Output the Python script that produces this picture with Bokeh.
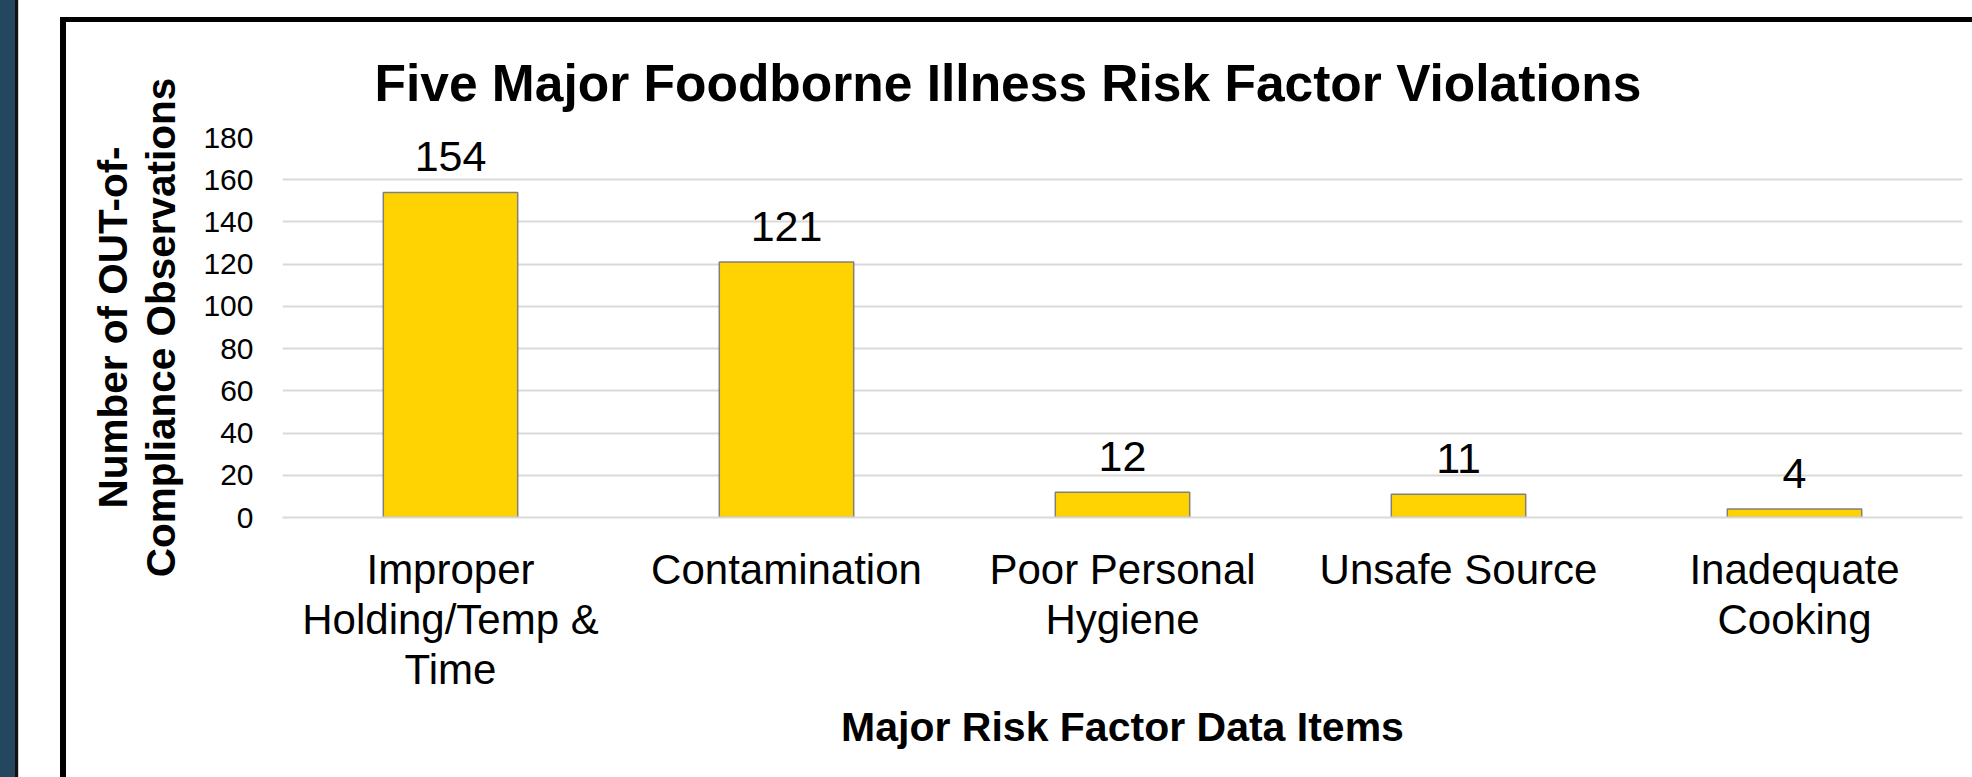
from bokeh.plotting import figure
from bokeh.models import ColumnDataSource, FixedTicker, Title, Div
from bokeh.layouts import row, column
from bokeh.core.properties import value
from bokeh.embed import file_html
from bokeh.resources import INLINE

# ---- data ----
categories = [
    "Improper\nHolding/Temp &\nTime",
    "Contamination",
    "Poor Personal\nHygiene",
    "Unsafe Source",
    "Inadequate\nCooking",
]
counts = [154, 121, 12, 11, 4]
y_ticks = [0, 20, 40, 60, 80, 100, 120, 140, 160, 180]

chart_title = "Five Major Foodborne Illness Risk Factor Violations"
x_title = "Major Risk Factor Data Items"
y_title = "Number of OUT-of-\nCompliance Observations"

FONT = "Liberation Sans"

src = ColumnDataSource(dict(cat=categories, val=counts, lab=[str(v) for v in counts]))

p = figure(
    x_range=categories, y_range=(0, 180),
    width=1906, height=755,
    output_backend="svg", toolbar_location=None,
    min_border_left=216, min_border_right=10, min_border_top=115, min_border_bottom=260,
)
p.outline_line_color = None
p.background_fill_color = "white"
p.border_fill_color = "white"

p.vbar(x="cat", top="val", width=0.40, source=src,
       fill_color="#FFD302", line_color="#808080", line_width=1.5)
p.text(x="cat", y="val", text="lab", source=src, text_align="center",
       text_baseline="alphabetic", y_offset=-36, text_font=value(FONT),
       text_font_size="43px", text_color="black")

# grid
p.xgrid.grid_line_color = None
p.ygrid.grid_line_color = "#d9d9d9"
p.ygrid.grid_line_width = 2
p.ygrid.ticker = FixedTicker(ticks=y_ticks)

# y axis
p.yaxis.ticker = FixedTicker(ticks=y_ticks)
p.yaxis.axis_line_color = None
p.yaxis.major_tick_line_color = None
p.yaxis.minor_tick_line_color = None
p.yaxis.major_tick_out = 0
p.yaxis.major_tick_in = 0
p.yaxis.major_label_standoff = 29
p.yaxis.major_label_text_font = FONT
p.yaxis.major_label_text_font_size = "30px"
p.yaxis.major_label_text_color = "black"
p.yaxis.axis_label = y_title
p.yaxis.axis_label_text_font = FONT
p.yaxis.axis_label_text_font_style = "bold"
p.yaxis.axis_label_text_font_size = "40.5px"
p.yaxis.axis_label_text_line_height = 1.05
p.yaxis.axis_label_text_color = "black"
p.yaxis.axis_label_standoff = 16

# x axis
p.xaxis.axis_line_color = "#d9d9d9"
p.xaxis.axis_line_width = 2
p.xaxis.major_tick_line_color = None
p.xaxis.minor_tick_line_color = None
p.xaxis.major_tick_out = 0
p.xaxis.major_tick_in = 0
p.xaxis.major_label_standoff = 28
p.xaxis.major_label_text_font = FONT
p.xaxis.major_label_text_font_size = "42px"
p.xaxis.major_label_text_line_height = 1.07
p.xaxis.major_label_text_color = "black"
p.xaxis.axis_label = x_title
p.xaxis.axis_label_text_font = FONT
p.xaxis.axis_label_text_font_style = "bold"
p.xaxis.axis_label_text_font_size = "41px"
p.xaxis.axis_label_text_color = "black"
p.xaxis.axis_label_standoff = 8

# title (offset toward the chart-area centre)
p.add_layout(Title(text=chart_title, align="left", offset=92, standoff=51,
                   text_font=FONT, text_font_style="bold", text_font_size="51.5px",
                   text_color="black"), "above")


def block(w, h, color):
    return Div(width=w, height=h, margin=0, styles={"background-color": color})


page = row(
    block(15, 777, "#24475f"),
    block(3, 777, "#111111"),
    block(1, 777, "#d0d0d0"),
    block(41, 777, "white"),
    column(
        block(1912, 17, "white"),
        row(
            block(6, 760, "black"),
            column(block(1906, 5, "black"), p, spacing=0),
            spacing=0,
        ),
        spacing=0,
    ),
    spacing=0,
)

open("out.html", "w").write(file_html(page, INLINE))
